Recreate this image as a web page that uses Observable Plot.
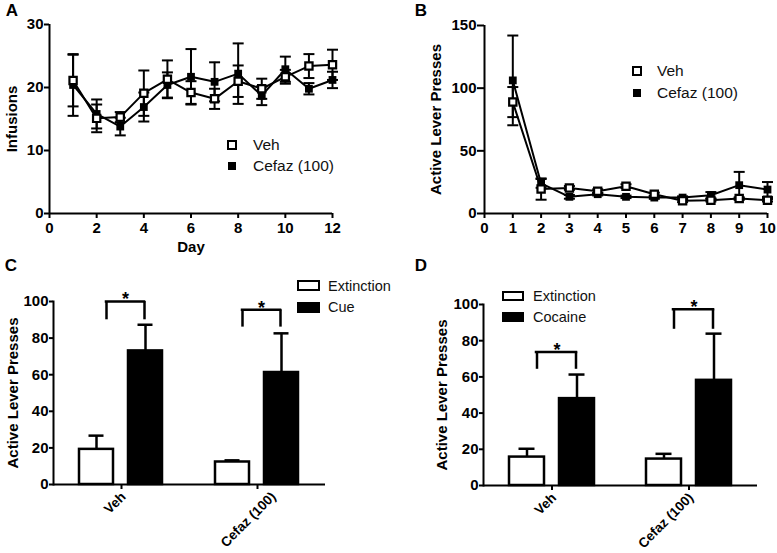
<!DOCTYPE html>
<html><head><meta charset="utf-8">
<script src="https://cdn.jsdelivr.net/npm/d3@7"></script>
<script src="https://cdn.jsdelivr.net/npm/@observablehq/plot@0.6"></script>
<style>
body{margin:0;background:#fff;}
#root{position:relative;width:777px;height:553px;overflow:hidden;font-family:"Liberation Sans",Arial,sans-serif;color:#000;background:#fff;}
.panel{position:absolute;}
.letter{position:absolute;font-weight:bold;font-size:17px;line-height:1;transform:translate(-50%,-50%);}
.leg{position:absolute;line-height:1;white-space:nowrap;transform:translateY(-50%);color:#111;}
.sw{position:absolute;box-sizing:border-box;transform:translate(-50%,-50%);}
.box{position:absolute;box-sizing:border-box;border:2.5px solid #000;}
</style></head>
<body><div id="root"></div>
<script>
// ---------- Data ----------
const seriesNames = ["Veh", "Cefaz (100)"];
// Panel A: infusions across 12 days
const daysA = [1, 2, 3, 4, 5, 6, 7, 8, 9, 10, 11, 12];
const vehInfMean = [21.1, 15.1, 15.3, 19.1, 21.3, 19.2, 18.2, 21.0, 19.8, 21.7, 23.4, 23.6];
const vehInfSem  = [4.1, 2.2, 0.8, 3.6, 3.0, 1.8, 1.6, 2.5, 1.6, 1.1, 1.9, 2.4];
const cefInfMean = [20.4, 15.8, 13.8, 16.9, 20.4, 21.7, 20.9, 22.2, 18.7, 22.9, 19.8, 21.2];
const cefInfSem  = [4.9, 2.3, 1.4, 2.3, 2.0, 4.4, 3.1, 4.8, 1.5, 2.0, 0.9, 1.3];
const ticksAx = [0, 2, 4, 6, 8, 10, 12];
const ticksAy = [0, 10, 20, 30];
// Panel B: active lever presses across 10 extinction days
const daysB = [1, 2, 3, 4, 5, 6, 7, 8, 9, 10];
const vehExtMean = [88.9, 19.5, 20.4, 17.8, 21.8, 15.4, 10.1, 10.6, 11.9, 10.6];
const vehExtSem  = [12.0, 8.5, 1.5, 1.5, 1.5, 1.2, 1.0, 1.0, 1.0, 1.0];
const cefExtMean = [106.2, 24.0, 13.3, 15.4, 13.3, 12.7, 12.7, 14.6, 22.6, 19.1];
const cefExtSem  = [35.8, 3.5, 1.5, 1.0, 1.0, 1.0, 1.0, 2.5, 10.6, 6.0];
const ticksBx = [0, 1, 2, 3, 4, 5, 6, 7, 8, 9, 10];
const ticksBy = [0, 50, 100, 150];
// Panels C and D: reinstatement bars
const groups = ["Veh", "Cefaz (100)"];
const ticksBarY = [0, 20, 40, 60, 80, 100];
const condsC = ["Extinction", "Cue"];
const extCMean = [19.2, 12.3], extCSem = [7.5, 0.9];
const cueCMean = [73.0, 61.2], cueCSem = [14.3, 21.4];
const brkCTop = [100, 95.5], brkCLow = [90, 86];
const condsD = ["Extinction", "Cocaine"];
const extDMean = [15.7, 14.6], extDSem = [4.6, 2.9];
const cocDMean = [48.0, 58.1], cocDSem = [13.3, 25.8];
const brkDTop = [73.8, 97.4], brkDLow = [64.2, 86.3];

// ---------- helpers ----------
const root = document.getElementById("root");
const FONT = '"Liberation Sans", Arial, Helvetica, sans-serif';
const capSymbol = {draw(ctx, size) { const r = Math.sqrt(size / Math.PI); ctx.moveTo(-r, 0); ctx.lineTo(r, 0); }};

function place(el, left, top) {
  const d = document.createElement("div");
  d.className = "panel"; d.style.left = left + "px"; d.style.top = top + "px";
  d.appendChild(el); root.appendChild(d);
}
function addDiv(cls, x, y, html, extra) {
  const d = document.createElement("div");
  d.className = cls; d.style.left = x + "px"; d.style.top = y + "px";
  if (html != null) d.textContent = html;
  Object.assign(d.style, extra || {});
  root.appendChild(d); return d;
}

function linePanel(o) {
  const rows = o.series.flatMap(s => o.days.map((d, i) => ({series: s.name, day: d, mean: s.mean[i], sem: s.sem[i]})));
  const vehRows = rows.filter(r => r.series === o.series[0].name);
  const cefRows = rows.filter(r => r.series === o.series[1].name);
  return Plot.plot({
    width: o.width, height: o.height,
    marginLeft: o.ml, marginRight: o.mr, marginTop: o.mt, marginBottom: o.mb,
    x: {domain: o.xDomain}, y: {domain: o.yDomain},
    style: {fontFamily: FONT, fontSize: "15px", fontWeight: "bold", color: "black", background: "white"},
    marks: [
      Plot.axisX({ticks: o.xTicks, tickSize: 5, tickPadding: 4, strokeWidth: 2, label: o.xLabel, labelAnchor: "center", labelOffset: o.xLabelOffset, labelArrow: "none"}),
      Plot.axisY({ticks: o.yTicks, tickSize: o.yTickSize, tickPadding: 1, strokeWidth: 2, label: o.yLabel, labelAnchor: "center", labelOffset: o.yLabelOffset, labelArrow: "none"}),
      Plot.ruleY([0], {strokeWidth: 2}),
      Plot.ruleX([0], {strokeWidth: 2}),
      Plot.line(rows, {x: "day", y: "mean", z: "series", stroke: "black", strokeWidth: 2}),
      Plot.ruleX(rows, {x: "day", y1: d => d.mean - d.sem, y2: d => d.mean + d.sem, stroke: "black", strokeWidth: 2}),
      Plot.dot(rows, {x: "day", y: d => d.mean + d.sem, symbol: capSymbol, r: 5.5, fill: "none", stroke: "black", strokeWidth: 2}),
      Plot.dot(rows, {x: "day", y: d => d.mean - d.sem, symbol: capSymbol, r: 5.5, fill: "none", stroke: "black", strokeWidth: 2}),
      Plot.dot(cefRows, {x: "day", y: "mean", symbol: "square", r: 4.4, fill: "black", stroke: "none"}),
      Plot.dot(vehRows, {x: "day", y: "mean", symbol: "square", r: 4.1, fill: "white", stroke: "black", strokeWidth: 2.2})
    ]
  });
}

function barPanel(o) {
  const rows = groups.flatMap((g, i) => [
    {group: g, cond: o.conds[0], mean: o.a.mean[i], sem: o.a.sem[i]},
    {group: g, cond: o.conds[1], mean: o.b.mean[i], sem: o.b.sem[i]}
  ]);
  const brk = groups.map((g, i) => ({group: g, top: o.brkTop[i], low: o.brkLow[i]}));
  const c0 = () => o.conds[0], c1 = () => o.conds[1];
  return Plot.plot({
    width: o.width, height: o.height,
    marginLeft: o.ml, marginRight: o.mr, marginTop: o.mt, marginBottom: o.mb,
    fx: {domain: groups, padding: 0},
    x: {domain: o.conds, paddingInner: 0.3, paddingOuter: 0.515, axis: null},
    y: {domain: [0, 100]},
    style: {fontFamily: FONT, fontSize: "15px", fontWeight: "bold", color: "black", background: "white"},
    marks: [
      Plot.axisY({ticks: ticksBarY, tickSize: 4, tickPadding: 1, strokeWidth: 2, label: o.yLabel, labelAnchor: "center", labelOffset: o.yLabelOffset, labelArrow: "none"}),
      Plot.axisFx({anchor: "bottom", tickSize: 5, strokeWidth: 2, tickFormat: () => "", label: null}),
      // rotated group labels
      ...groups.map((g, i) => Plot.text([g], {fx: d => d, text: d => d, frameAnchor: "bottom", rotate: -45, textAnchor: "end", lineAnchor: "middle", dx: o.labelDx[i], dy: 10, fontSize: 13.5, fontWeight: "bold", fill: "black"})),
      Plot.frame({anchor: "left", facetAnchor: "left", strokeWidth: 2}),
      Plot.ruleY([0], {strokeWidth: 2}),
      Plot.barY(rows.filter(r => r.cond === o.conds[0]), {fx: "group", x: "cond", y: "mean", fill: "white", stroke: "black", strokeWidth: 2.5}),
      Plot.barY(rows.filter(r => r.cond === o.conds[1]), {fx: "group", x: "cond", y: "mean", fill: "black", stroke: "black", strokeWidth: 2.5}),
      Plot.ruleX(rows, {fx: "group", x: "cond", y1: "mean", y2: d => d.mean + d.sem, stroke: "black", strokeWidth: 2.5}),
      Plot.tickY(rows, {fx: "group", x: "cond", y: d => d.mean + d.sem, insetLeft: 9.5, insetRight: 9.5, stroke: "black", strokeWidth: 2.5}),
      // significance brackets
      Plot.ruleY(brk, {fx: "group", x1: c0, x2: c1, y: "top", insetLeft: 27, insetRight: 18, stroke: "black", strokeWidth: 2.5, strokeLinecap: "square"}),
      Plot.ruleX(brk, {fx: "group", x: c0, y1: "low", y2: "top", dx: 10, stroke: "black", strokeWidth: 2.5}),
      Plot.ruleX(brk, {fx: "group", x: c1, y1: "low", y2: "top", dx: -1, stroke: "black", strokeWidth: 2.5}),
      Plot.text(brk, {fx: "group", x: c1, y: "top", text: () => "*", dx: -20, dy: -2, lineAnchor: "middle", fontSize: 18, fontWeight: "bold", fill: "black"})
    ]
  });
}

// ---------- Panels ----------
place(linePanel({
  width: 388, height: 270, ml: 49, mr: 56, mt: 24, mb: 57,
  days: daysA, xDomain: [0, 12], yDomain: [0, 30], xTicks: ticksAx, yTicks: ticksAy, yTickSize: 5,
  xLabel: "Day", xLabelOffset: 38, yLabel: "Infusions", yLabelOffset: 43,
  series: [{name: seriesNames[0], mean: vehInfMean, sem: vehInfSem}, {name: seriesNames[1], mean: cefInfMean, sem: cefInfSem}]
}), 0, 0);

place(linePanel({
  width: 389, height: 270, ml: 96, mr: 10, mt: 25, mb: 57,
  days: daysB, xDomain: [0, 10], yDomain: [0, 150], xTicks: ticksBx, yTicks: ticksBy, yTickSize: 7,
  xLabel: null, xLabelOffset: 38, yLabel: "Active Lever Presses", yLabelOffset: 54,
  series: [{name: seriesNames[0], mean: vehExtMean, sem: vehExtSem}, {name: seriesNames[1], mean: cefExtMean, sem: cefExtSem}]
}), 388, 0);

place(barPanel({
  width: 388, height: 283, ml: 52, mr: 63, mt: 31, mb: 69,
  conds: condsC, a: {mean: extCMean, sem: extCSem}, b: {mean: cueCMean, sem: cueCSem},
  brkTop: brkCTop, brkLow: brkCLow, yLabel: "Active Lever Presses", yLabelOffset: 46,
  labelDx: [2, 16]
}), 0, 270);

place(barPanel({
  width: 389, height: 283, ml: 95, mr: 20, mt: 34, mb: 68,
  conds: condsD, a: {mean: extDMean, sem: extDSem}, b: {mean: cocDMean, sem: cocDSem},
  brkTop: brkDTop, brkLow: brkDLow, yLabel: "Active Lever Presses", yLabelOffset: 47,
  labelDx: [2, 2]
}), 388, 270);

// ---------- Panel letters ----------
[["A", 12, 10], ["B", 421, 10], ["C", 11, 265], ["D", 421, 265]].forEach(([t, x, y]) => addDiv("letter", x, y, t));

// ---------- Legends ----------
function markerLegend(mx, tx, ys, size) {
  seriesNames.forEach((name, i) => {
    if (i === 0) addDiv("sw", mx, ys[i], null, {width: "10px", height: "10px", border: "2.2px solid #000", background: "#fff"});
    else addDiv("sw", mx, ys[i], null, {width: "8px", height: "8px", background: "#000"});
    addDiv("leg", tx, ys[i], name, {fontSize: size + "px"});
  });
}
markerLegend(232, 253, [145, 166], 15.5);
markerLegend(637, 657, [71, 93], 15.5);

function boxLegend(bx, by, bw, bh, tx, ty, names, size) {
  names.forEach((name, i) => {
    addDiv("box", bx, by[i], null, {width: bw + "px", height: bh + "px", background: i === 0 ? "#fff" : "#000"});
    addDiv("leg", tx, ty[i], name, {fontSize: size + "px"});
  });
}
boxLegend(297, [280, 302], 23, 11, 328, [286, 307], condsC, 14.5);
boxLegend(502, [291, 312], 22, 10, 533, [296, 317], condsD, 14.5);
</script>
</body></html>
